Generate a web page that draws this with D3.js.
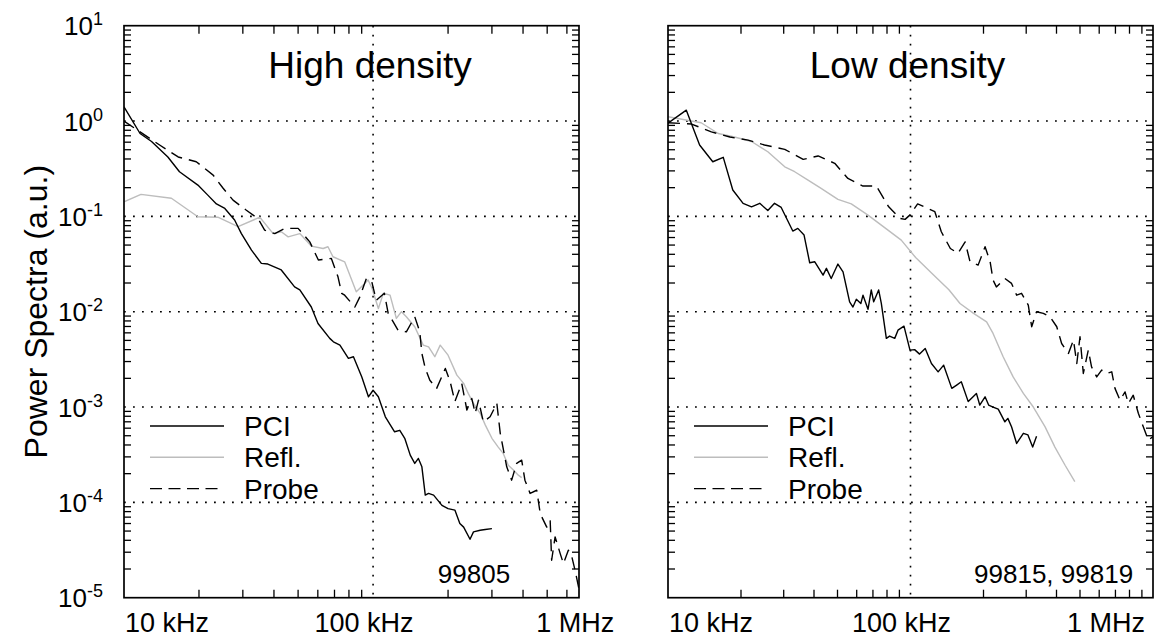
<!DOCTYPE html>
<html>
<head>
<meta charset="utf-8">
<script src="https://cdn.jsdelivr.net/npm/d3@7"></script>
<style>
  body { margin: 0; background: #fff; }
  svg text { font-family: "Liberation Sans", Arial, sans-serif; fill: #000; }
</style>
</head>
<body>
<svg id="chart" width="1173" height="639"></svg>
<script>
// Power spectra, two panels, log-log. Frequencies in kHz, power in a.u.

const hdPci = [[10,1.41],[11.6,0.74],[12.9,0.61],[15.0,0.42],[16.7,0.294],[19.8,0.213],[21.7,0.167],[23.5,0.135],
  [25.4,0.121],[27.8,0.0915],[29.6,0.066],[32.5,0.0443],[35.6,0.0321],[37.8,0.0316],[42.8,0.0274],[48.4,0.0182],
  [50.8,0.0169],[56.5,0.0112],[60.1,0.00753],[67.0,0.00525],[69.3,0.00483],[73.6,0.00446],[79.6,0.00324],
  [83.4,0.00337],[90.1,0.00207],[95.8,0.00128],[100,0.0015],[105,0.00128],[112,7.9e-4],[122,5.5e-4],[128,5.7e-4],
  [134,4.7e-4],[141,3.13e-4],[147,2.56e-4],[152,2.89e-4],[157,2.36e-4],[162,1.19e-4],[167,1.24e-4],[175,1.19e-4],
  [189,9.3e-5],[200,8.6e-5],[213,8.3e-5],[223,6.0e-5],[231,5.5e-5],[245,4.1e-5],[253,4.9e-5],[269,5.1e-5],
  [282,5.2e-5],[300,5.3e-5]];

const hdRefl = [[10,0.142],[11.7,0.170],[15.5,0.155],[19.8,0.099],[23.8,0.098],[28.7,0.078],[35.1,0.098],
  [39.7,0.066],[42.8,0.069],[45.6,0.061],[50.8,0.066],[56.5,0.0488],[63,0.046],[65.9,0.048],[69,0.0377],
  [76.9,0.0334],[85.6,0.0162],[91.2,0.019],[95.5,0.0215],[99,0.0176],[105,0.0108],[110,0.0156],[117,0.0149],
  [124,0.0085],[130,0.01],[136,0.00885],[147,0.00695],[159,0.00446],[167,0.00428],[177,0.00337],[186,0.00446],
  [200,0.0035],[217,0.00216],[231,0.00177],[241,0.00139],[253,0.00109],[269,8.6e-4],[273,7.9e-4],[282,6.5e-4],
  [300,4.7e-4],[318,3.8e-4],[333,3.26e-4],[349,2.45e-4],[366,2.18e-4],[383,1.93e-4],[395,1.82e-4]];

const hdProbe = [[10,1.0],[11.6,0.77],[13.9,0.56],[16.5,0.42],[19.5,0.374],[22.8,0.271],[25,0.197],[27.4,0.148],
  [31,0.116],[34.5,0.095],[36.7,0.0718],[40.3,0.066],[44.2,0.0748],[50,0.0748],[54.2,0.0587],[55.7,0.054],
  [60.3,0.0348],[68,0.0362],[72.3,0.0232],[74.8,0.0156],[76.9,0.0149],[84.5,0.0112],[88.5,0.0143],[94,0.0223],
  [98.8,0.0206],[103,0.0132],[111,0.0156],[115,0.0096],[126,0.0064],[136,0.00615],[147,0.00885],[154,0.00615],
  [157,0.00365],[162,0.00254],[169,0.00191],[180,0.00157],[195,0.00254],[204,0.00184],[213,0.00114],
  [227,0.00177],[238,9.3e-4],[249,0.00123],[257,8.6e-4],[265,0.00118],[277,7.0e-4],[295,7.9e-4],[314,0.00109],
  [324,5.3e-4],[328,4.5e-4],[344,2.36e-4],[360,1.71e-4],[377,2.56e-4],[395,2.77e-4],[407,1.71e-4],[427,1.24e-4],
  [454,1.34e-4],[469,7.6e-5],[498,5.5e-5],[514,6.5e-5],[521,2.47e-5],[538,4.35e-5],[564,2.9e-5],[581,2.28e-5],
  [608,3.15e-5],[628,2.68e-5],[647,1.94e-5],[668,1.3e-5],[690,8e-6]];

const ldPci = [[10,0.95],[11.9,1.30],[13.5,0.56],[15.3,0.374],[16.9,0.416],[18.5,0.189],[20.4,0.137],[22.1,0.126],
  [23.9,0.137],[25.8,0.115],[27.5,0.137],[29.3,0.124],[32.7,0.0702],[34.3,0.0748],[36.4,0.0637],[38.4,0.0326],
  [40.3,0.0334],[43.6,0.0242],[45,0.0285],[47.1,0.0223],[50.2,0.0316],[52.7,0.0262],[56.1,0.0127],[57.9,0.0112],
  [59.8,0.0135],[62.4,0.0122],[63.7,0.0149],[66.8,0.0106],[68.9,0.0169],[70.5,0.0127],[73.9,0.0169],[75.8,0.0122],
  [79.5,0.00525],[82,0.00555],[86.1,0.00525],[88.8,0.0064],[94,0.00706],[99.5,0.00395],[104,0.004],[109,0.00359],
  [115,0.00412],[122,0.00286],[130,0.00234],[137,0.00275],[148,0.00157],[155,0.0017],[162,0.00184],[173,0.00114],
  [187,0.00139],[193,0.00105],[203,0.00128],[210,0.00105],[219,0.001],[230,9.5e-4],[245,7.0e-4],[252,7.6e-4],
  [261,6.2e-4],[274,4.15e-4],[292,5.3e-4],[305,5.1e-4],[319,3.8e-4],[331,4.95e-4]];

const ldRefl = [[10,1.11],[13.7,0.96],[16.1,0.74],[18.8,0.68],[22.1,0.61],[25.8,0.476],[30.3,0.331],[33.3,0.294],
  [37.8,0.24],[42.8,0.197],[50.2,0.151],[57,0.135],[66.8,0.103],[75.8,0.081],[91.6,0.0563],[105,0.037],
  [123,0.025],[144,0.017],[160,0.0122],[182,0.0096],[206,0.00783],[219,0.00592],[241,0.00337],[265,0.00207],
  [292,0.00139],[321,0.001],[359,6.2e-4],[394,3.8e-4],[434,2.45e-4],[476,1.65e-4]];

const ldProbe = [[10,0.96],[12.5,0.93],[15.1,0.77],[18,0.68],[21.4,0.63],[25,0.56],[30.3,0.505],[36.1,0.396],
  [41.6,0.43],[48.7,0.36],[55.2,0.25],[63.7,0.208],[72.3,0.208],[81.3,0.126],[90.6,0.095],[95,0.093],[99.3,0.103],
  [107,0.135],[114,0.126],[126,0.112],[134,0.069],[146,0.046],[157,0.041],[168,0.054],[176,0.0334],[190,0.0308],
  [203,0.048],[213,0.0334],[219,0.0215],[226,0.0182],[245,0.0223],[261,0.0198],[274,0.0149],[287,0.0156],
  [306,0.0117],[316,0.00695],[331,0.01],[353,0.0096],[376,0.00885],[401,0.00695],[420,0.00464],[448,0.00365],
  [470,0.00504],[485,0.00286],[500,0.00546],[516,0.00225],[541,0.00395],[558,0.00264],[586,0.00207],
  [614,0.00244],[644,0.00225],[676,0.00234],[697,0.00157],[731,0.00118],[767,0.00144],[791,0.00109],
  [829,0.00133],[870,8.6e-4],[912,6.2e-4],[957,4.5e-4],[1000,4.9e-4]];

const seriesNames = ["PCI", "Refl.", "Probe"];
const yExponents = [1, 0, -1, -2, -3, -4, -5];
const xTickLabels = [[10, "10 kHz"], [100, "100 kHz"], [1000, "1 MHz"]];

// ---- layout ----
const TOP = 25.7, BOT = 597.7;
const GREY = "#bdbdbd";
const styles = [
  { color: "#000", dash: null },
  { color: GREY, dash: null },
  { color: "#000", dash: "12,7" },
];

const panels = [
  { title: "High density", shot: "99805", shotAt: [355, 1.42e-5], x0: 124, x1: 579, fMax: 671,
    series: [hdPci, hdRefl, hdProbe], yLabels: true },
  { title: "Low density", shot: "99815, 99819", shotAt: [828, 1.42e-5], x0: 668, x1: 1153, fMax: 1000,
    series: [ldPci, ldRefl, ldProbe], yLabels: false },
];

const svg = d3.select("#chart");
const y = d3.scaleLog().domain([1e-5, 10]).range([BOT, TOP]);

const yMinor = [];
for (let e = -5; e <= 0; e++) for (let m = 2; m <= 9; m++) yMinor.push(m * 10 ** e);

panels.forEach((p, pi) => {
  const x = d3.scaleLog().domain([10, p.fMax]).range([p.x0, p.x1]);
  const g = svg.append("g");

  const clipId = `clip${pi}`;
  svg.append("clipPath").attr("id", clipId)
    .append("rect").attr("x", p.x0).attr("y", TOP).attr("width", p.x1 - p.x0).attr("height", BOT - TOP);

  // dotted grid at major decades (IDL-style full-length ticks)
  const gGrid = g.append("g").attr("stroke", "#000").attr("stroke-width", 1.6)
    .attr("stroke-dasharray", "1.8,7.2");
  gGrid.selectAll("line.h").data([1, 0.1, 0.01, 1e-3, 1e-4]).join("line")
    .attr("x1", p.x0).attr("x2", p.x1).attr("y1", d => y(d)).attr("y2", d => y(d));
  gGrid.append("line").attr("x1", x(100)).attr("x2", x(100)).attr("y1", TOP).attr("y2", BOT);

  // minor ticks
  const xMinor = [];
  for (const dec of [10, 100, 1000]) for (let m = 2; m <= 9; m++) {
    const v = m * dec;
    if (v < p.fMax) xMinor.push(v);
  }
  const gT = g.append("g").attr("stroke", "#000").attr("stroke-width", 1.3);
  gT.selectAll("line.xb").data(xMinor).join("line")
    .attr("x1", d => x(d)).attr("x2", d => x(d)).attr("y1", BOT).attr("y2", BOT - 8);
  gT.selectAll("line.xt").data(xMinor).join("line")
    .attr("x1", d => x(d)).attr("x2", d => x(d)).attr("y1", TOP).attr("y2", TOP + 8);
  gT.selectAll("line.yl").data(yMinor).join("line")
    .attr("y1", d => y(d)).attr("y2", d => y(d)).attr("x1", p.x0).attr("x2", p.x0 + 7);
  gT.selectAll("line.yr").data(yMinor).join("line")
    .attr("y1", d => y(d)).attr("y2", d => y(d)).attr("x1", p.x1).attr("x2", p.x1 - 7);

  // data
  const line = d3.line().x(d => x(d[0])).y(d => y(d[1]));
  const gD = g.append("g").attr("clip-path", `url(#${clipId})`).attr("fill", "none");
  // draw grey first so black lies on top
  [1, 0, 2].forEach(si => {
    gD.append("path").datum(p.series[si])
      .attr("d", line)
      .attr("stroke", styles[si].color)
      .attr("stroke-width", 1.4)
      .attr("stroke-linejoin", "round")
      .attr("stroke-dasharray", styles[si].dash);
  });

  // frame
  g.append("rect").attr("x", p.x0).attr("y", TOP).attr("width", p.x1 - p.x0).attr("height", BOT - TOP)
    .attr("fill", "none").attr("stroke", "#000").attr("stroke-width", 1.7);

  // title
  g.append("text").attr("x", x(100) - 3).attr("y", 78).attr("text-anchor", "middle")
    .attr("font-size", 37).text(p.title);

  // shot numbers
  g.append("text").attr("x", x(p.shotAt[0])).attr("y", y(p.shotAt[1])).attr("text-anchor", "end")
    .attr("font-size", 26).text(p.shot);

  // legend
  const gL = g.append("g");
  seriesNames.forEach((name, i) => {
    const ly = 426 + i * 31.3;
    gL.append("line").attr("x1", p.x0 + 26).attr("x2", p.x0 + 100).attr("y1", ly).attr("y2", ly)
      .attr("stroke", styles[i].color).attr("stroke-width", 1.4)
      .attr("stroke-dasharray", i === 2 ? "12,6.5" : null);
    gL.append("text").attr("x", p.x0 + 120).attr("y", ly + 10).attr("font-size", 28).text(name);
  });

  // x tick labels (placed like the original: start / centered / end)
  const anchors = ["start", "middle", "end"];
  const offs = [1, -9, -8];
  xTickLabels.forEach(([v, txt], i) => {
    g.append("text").attr("x", x(v) + offs[i]).attr("y", 632).attr("text-anchor", anchors[i])
      .attr("font-size", 27).text(txt);
  });

  // y tick labels
  if (p.yLabels) {
    yExponents.forEach(e => {
      const t = g.append("text").attr("x", 103).attr("y", y(10 ** e) + 9.5)
        .attr("text-anchor", "end").attr("font-size", 26);
      t.append("tspan").text("10");
      t.append("tspan").attr("font-size", 18).attr("dy", -10).text(String(e));
    });
  }
});

svg.append("text")
  .attr("transform", `translate(47,${(TOP + BOT) / 2}) rotate(-90)`)
  .attr("text-anchor", "middle").attr("font-size", 32)
  .text("Power Spectra (a.u.)");
</script>
</body>
</html>
